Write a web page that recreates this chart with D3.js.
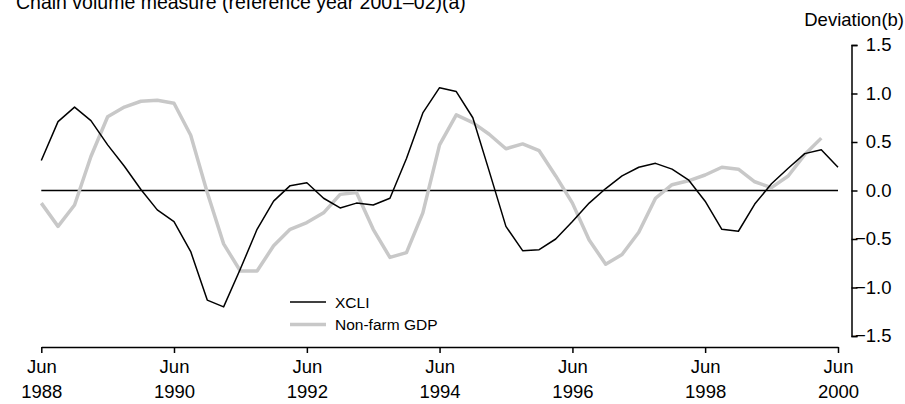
<!DOCTYPE html>
<html>
<head>
<meta charset="utf-8">
<script src="https://cdn.jsdelivr.net/npm/d3@7"></script>
<style>
  body { margin: 0; background: #fff; }
  svg text { font-family: "Liberation Sans", Arial, sans-serif; fill: #000; }
</style>
</head>
<body>
<div id="chart"></div>
<script>
// quarterly deviations from trend, Jun 1988 .. Jun 2000
var xcli = [0.31, 0.71, 0.86, 0.72, 0.47, 0.25, 0.01, -0.20, -0.32, -0.63,
    -1.13, -1.20, -0.81, -0.40, -0.11, 0.05, 0.08, -0.08, -0.18, -0.13,
    -0.15, -0.08, 0.33, 0.80, 1.06, 1.02, 0.75, 0.20, -0.37, -0.62,
    -0.61, -0.50, -0.32, -0.13, 0.02, 0.15, 0.24, 0.28, 0.22, 0.11,
    -0.11, -0.40, -0.42, -0.14, 0.07, 0.23, 0.38, 0.42, 0.24];

var gdp = [-0.13, -0.37, -0.15, 0.35, 0.76, 0.86, 0.92, 0.93, 0.90, 0.57,
    -0.02, -0.55, -0.83, -0.83, -0.57, -0.40, -0.33, -0.23, -0.04, -0.02,
    -0.40, -0.69, -0.64, -0.23, 0.47, 0.78, 0.70, 0.58, 0.43, 0.48,
    0.41, 0.15, -0.13, -0.51, -0.76, -0.66, -0.43, -0.08, 0.06, 0.10,
    0.16, 0.24, 0.22, 0.09, 0.03, 0.15, 0.37, 0.54];

// one date per quarter (Jun, Sep, Dec, Mar)
var quarters = d3.range(xcli.length).map(function (i) {
    return d3.timeMonth.offset(new Date(1988, 5, 1), 3 * i);
});
var xTicks = [1988, 1990, 1992, 1994, 1996, 1998, 2000];
var yTicks = [-1.5, -1.0, -0.5, 0, 0.5, 1.0, 1.5];
var series = [
    {name: "Non-farm GDP", values: gdp, color: "#c8c8c8", width: 3.5},
    {name: "XCLI", values: xcli, color: "#000000", width: 1.5}
];

var svg = d3.select("#chart")
    .append("svg")
    .attr("width", 905)
    .attr("height", 404);

var x = d3.scaleTime()
    .domain([quarters[0], quarters[quarters.length - 1]])
    .range([41.3, 838]);

var y = d3.scaleLinear()
    .domain([-1.5, 1.5])
    .range([336, 45]);

// title, clipped at the top of the picture
svg.append("text")
    .attr("x", 16)
    .attr("y", 9)
    .attr("font-size", "19.5px")
    .text("Chain volume measure (reference year 2001\u201302)(a)");

svg.append("text")
    .attr("x", 904)
    .attr("y", 26)
    .attr("font-size", "18.5px")
    .attr("text-anchor", "end")
    .text("Deviation(b)");

// right axis
var yAxis = svg.append("g")
    .attr("transform", "translate(851.5,0)")
    .call(d3.axisRight(y)
        .tickValues(yTicks)
        .tickSize(6)
        .tickSizeOuter(6)
        .tickFormat(function (d) {
            return d3.format(".1f")(d).replace("-", "\u2212");
        }));
yAxis.select(".domain").attr("stroke-width", 1.5);
yAxis.selectAll(".tick line").attr("stroke-width", 1.5);
yAxis.selectAll(".tick text")
    .attr("x", 40)
    .attr("text-anchor", "end")
    .attr("font-size", "18.5px")
    .attr("font-family", "Liberation Sans, Arial, sans-serif");

// bottom axis
var xAxis = svg.append("g")
    .attr("transform", "translate(0,347)")
    .call(d3.axisBottom(x)
        .tickValues(xTicks.map(function (yr) { return new Date(yr, 5, 1); }))
        .tickSize(6)
        .tickSizeOuter(0)
        .tickFormat(""));
xAxis.select(".domain").attr("stroke-width", 1.5);
xAxis.selectAll(".tick line").attr("stroke-width", 1.5);

var tickLabel = xAxis.selectAll(".tick")
    .append("text")
    .attr("text-anchor", "middle")
    .attr("font-size", "18.5px")
    .attr("font-family", "Liberation Sans, Arial, sans-serif")
    .attr("fill", "#000");
tickLabel.append("tspan")
    .attr("x", 0)
    .attr("y", 26)
    .text("Jun");
tickLabel.append("tspan")
    .attr("x", 0)
    .attr("y", 51)
    .text(function (d) { return d.getFullYear(); });

// zero line
svg.append("line")
    .attr("x1", x(quarters[0]))
    .attr("x2", x(quarters[quarters.length - 1]))
    .attr("y1", y(0))
    .attr("y2", y(0))
    .attr("stroke", "#000")
    .attr("stroke-width", 1.5);

var line = d3.line()
    .x(function (d, i) { return x(quarters[i]); })
    .y(function (d) { return y(d); });

svg.selectAll(".series")
    .data(series)
    .enter()
    .append("path")
    .attr("class", "series")
    .attr("fill", "none")
    .attr("stroke", function (d) { return d.color; })
    .attr("stroke-width", function (d) { return d.width; })
    .attr("stroke-linejoin", "round")
    .attr("d", function (d) { return line(d.values); });

// legend
var legend = svg.append("g")
    .attr("transform", "translate(290,302)");

var legendItem = legend.selectAll(".legendItem")
    .data(series.slice().reverse())
    .enter()
    .append("g")
    .attr("class", "legendItem")
    .attr("transform", function (d, i) {
        return "translate(0," + i * 22.5 + ")";
    });

legendItem.append("line")
    .attr("x1", 0)
    .attr("x2", 36)
    .attr("stroke", function (d) { return d.color; })
    .attr("stroke-width", function (d) { return d.width; });

legendItem.append("text")
    .attr("x", 45)
    .attr("y", 5.5)
    .attr("font-size", "15.5px")
    .text(function (d) { return d.name; });
</script>
</body>
</html>
